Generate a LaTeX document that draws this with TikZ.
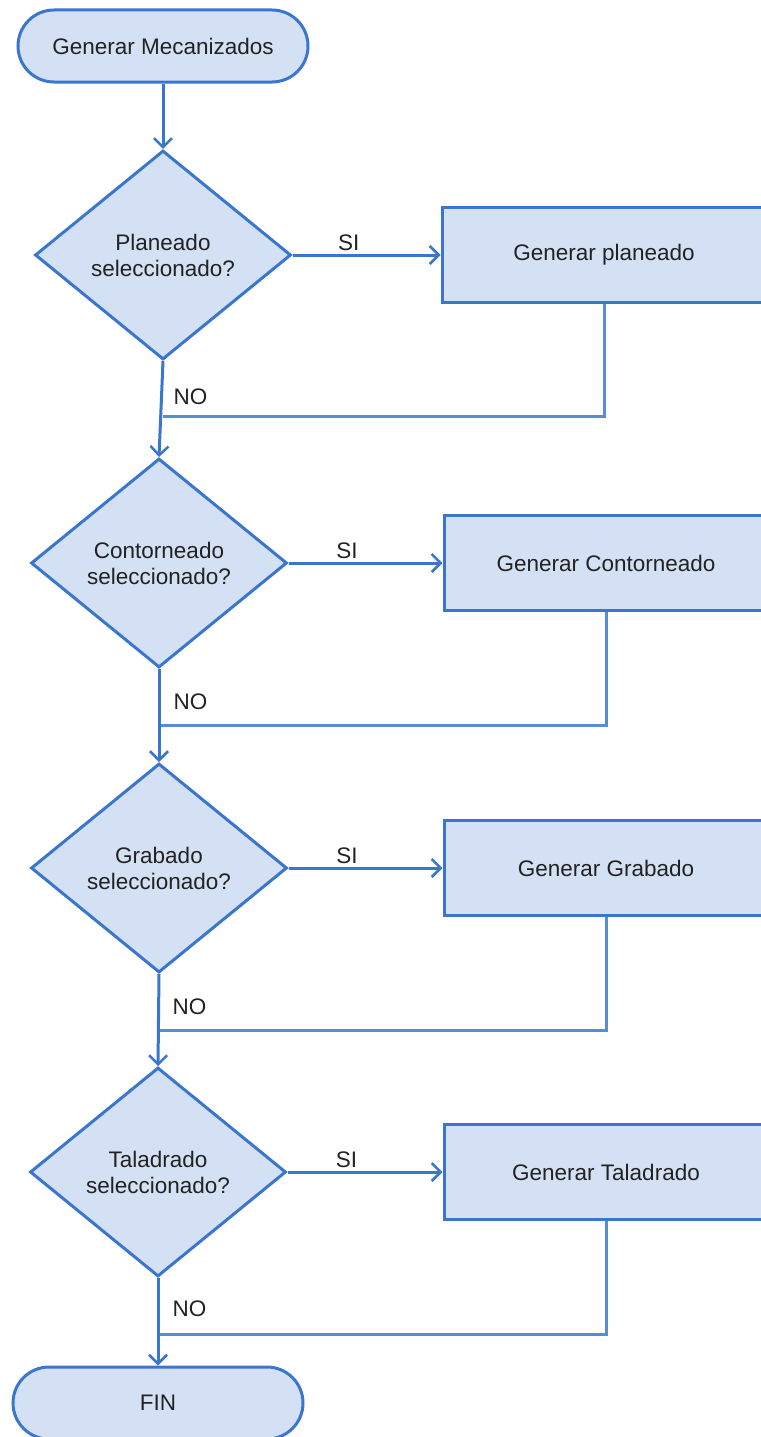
\documentclass[tikz,border=0pt]{standalone}
\usepackage{fontspec}
\setmainfont{Liberation Sans}
\usetikzlibrary{shapes.geometric,arrows.meta,calc}
\definecolor{edgeblue}{HTML}{3A76CE}
\definecolor{retblue}{HTML}{5A8CD6}
\definecolor{fillblue}{HTML}{D4E1F4}
\definecolor{txt}{HTML}{222222}
\begin{document}
\begin{tikzpicture}[x=1pt,y=-1pt,
  every node/.style={font=\fontsize{22.5}{26}\selectfont, text=txt},
  terminal/.style={draw=edgeblue, fill=fillblue, line width=3pt, rectangle, rounded corners=36pt, minimum width=290pt, minimum height=72pt, inner sep=0pt},
  decision/.style={draw=edgeblue, fill=fillblue, line width=3pt, diamond, minimum width=256pt, minimum height=209pt, inner sep=0pt, align=center},
  procbox/.style={draw=edgeblue, fill=fillblue, line width=3pt, rectangle, minimum width=324pt, minimum height=95pt, inner sep=0pt},
  flow/.style={draw=edgeblue, line width=3pt, -{Straight Barb[length=9pt,width=18pt,line width=2.5pt]}},
  back/.style={draw=retblue, line width=3pt},
  lbl/.style={inner sep=2pt}
]
\useasboundingbox (0,0) rectangle (760,1437);

\node[terminal] (start) at (163,46) {Generar Mecanizados};

\node[decision] (d1) at (163,255) {Planeado\\seleccionado?};
\node[procbox] (b1) at (604,255) {Generar planeado};

\node[decision] (d2) at (159,563) {Contorneado\\seleccionado?};
\node[procbox] (b2) at (606,563) {Generar Contorneado};

\node[decision] (d3) at (159,868) {Grabado\\seleccionado?};
\node[procbox] (b3) at (606,868) {Generar Grabado};

\node[decision] (d4) at (158,1172) {Taladrado\\seleccionado?};
\node[procbox] (b4) at (606,1172) {Generar Taladrado};

\node[terminal] (fin) at (158,1403) {FIN};

\coordinate (j1) at (163,416);
\coordinate (j2) at (159,725);
\coordinate (j3) at (158,1030);
\coordinate (j4) at (158,1334);

% start to first decision
\draw[flow] (start) -- (d1);

% SI arrows
\draw[flow] (d1.east) -- node[pos=0.38, above=1pt, lbl] (si1) {SI} (b1.west);
\draw[flow] (d2.east) -- node[pos=0.38, above=1pt, lbl] (si2) {SI} (b2.west);
\draw[flow] (d3.east) -- node[pos=0.38, above=1pt, lbl] (si3) {SI} (b3.west);
\draw[flow] (d4.east) -- node[pos=0.38, above=1pt, lbl] (si4) {SI} (b4.west);

% return lines
\draw[back] (b1.south) |- (j1);
\draw[back] (b2.south) |- (j2);
\draw[back] (b3.south) |- (j3);
\draw[back] (b4.south) |- (j4);

% NO arrows
\draw[flow] (d1.south) -- (d2.north);
\draw[flow] (d2.south) -- (d3.north);
\draw[flow] (d3.south) -- (d4.north);
\draw[flow] (d4.south) -- (fin.north);

\node[anchor=south west, xshift=7pt, yshift=8pt] (no1) at (j1) {NO};
\node[anchor=south west, xshift=11pt, yshift=12pt] (no2) at (j2) {NO};
\node[anchor=south west, xshift=11pt, yshift=12pt] (no3) at (j3) {NO};
\node[anchor=south west, xshift=11pt, yshift=14pt] (no4) at (j4) {NO};
\end{tikzpicture}
\end{document}
